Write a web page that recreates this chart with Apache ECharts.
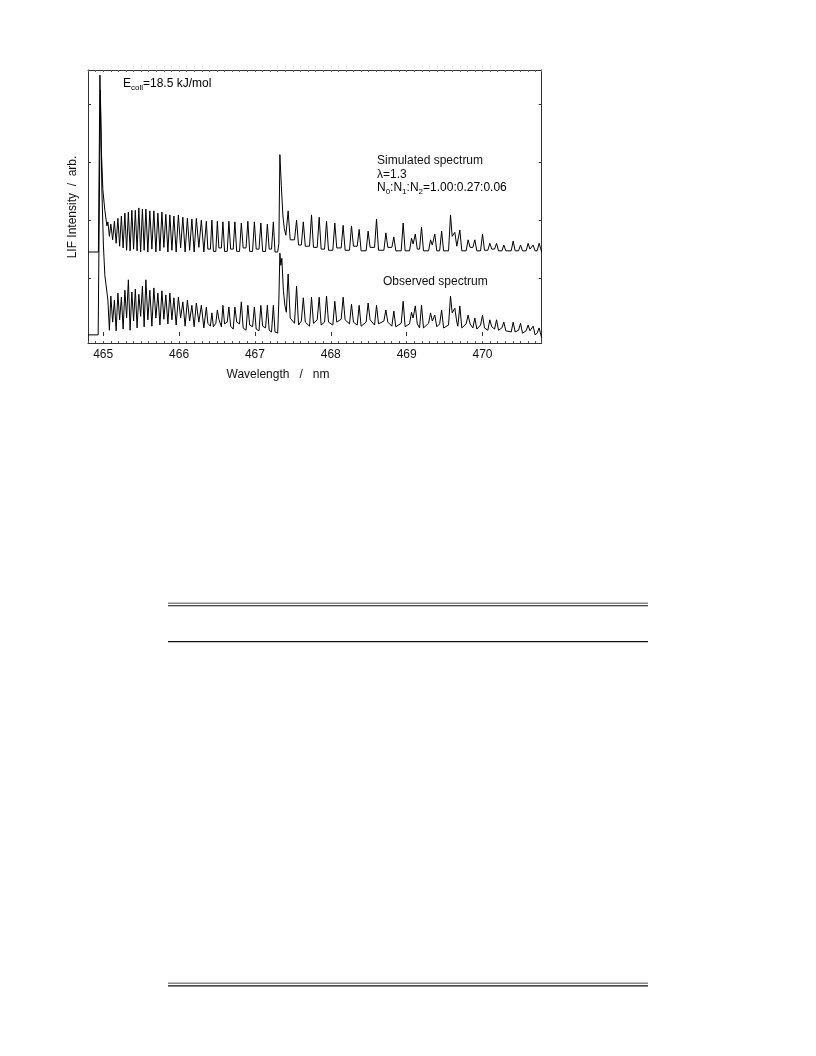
<!DOCTYPE html>
<html>
<head>
<meta charset="utf-8">
<script src="https://cdn.jsdelivr.net/npm/echarts@6/dist/echarts.min.js"></script>
<style>
html,body{margin:0;padding:0;background:#fff;}
#chart{width:816px;height:1056px;}
</style>
</head>
<body>
<div id="chart"></div>
<script>
// ---- data (wavelength in nm, LIF intensity in arb. units) ----
const xTickLabels = [465, 466, 467, 468, 469, 470];
const yTickValues = [1, 2, 3, 4];

// onset / band head near 465 nm
const simOnsetWl  = [464.800, 464.937, 464.957, 464.976, 464.996, 465.022, 465.049];
const simOnsetInt = [1.45, 1.45, 4.50, 3.21, 2.52, 2.17, 1.90];
const obsOnsetWl  = [464.800, 464.934, 464.963, 464.983, 465.003, 465.022, 465.049];
const obsOnsetInt = [0.02, 0.02, 4.24, 2.52, 1.57, 1.05, 0.76];

// dense rotational lines 465.0 - 466.3 nm (peak / trough)
const bandA1PeakWl = [465.062, 465.101, 465.148, 465.194, 465.240, 465.286, 465.332, 465.378, 465.424, 465.470, 465.517, 465.563, 465.615, 465.668, 465.721, 465.774, 465.826, 465.879, 465.932, 465.991, 466.050, 466.110, 466.169, 466.228, 466.294];
const bandA1TroughWl = [465.082, 465.125, 465.171, 465.217, 465.263, 465.309, 465.355, 465.401, 465.447, 465.494, 465.540, 465.589, 465.642, 465.695, 465.748, 465.800, 465.853, 465.906, 465.962, 466.021, 466.080, 466.140, 466.199, 466.261, 466.327];
const simA1Peak   = [1.97,1.93,1.98,2.03,2.07,2.12,2.14,2.17,2.17,2.21,2.19,2.19,2.16,2.16,2.12,2.14,2.10,2.09,2.07,2.09,2.05,2.03,2.02,2.03,2.00];
const simA1Trough = [1.72,1.66,1.60,1.55,1.52,1.48,1.47,1.50,1.47,1.45,1.48,1.45,1.50,1.45,1.47,1.53,1.45,1.48,1.45,1.52,1.45,1.48,1.45,1.53,1.45];
const obsA1Peak   = [0.62,0.69,0.62,0.74,0.67,0.79,0.97,0.76,0.81,0.72,0.86,0.97,0.79,0.83,0.74,0.78,0.71,0.74,0.66,0.67,0.59,0.62,0.53,0.57,0.53];
const obsA1Trough = [0.10,0.24,0.09,0.28,0.12,0.31,0.10,0.26,0.14,0.34,0.16,0.28,0.17,0.31,0.19,0.29,0.21,0.28,0.19,0.31,0.17,0.26,0.16,0.24,0.14];

// resolved lines 466.3 - 467.3 nm (peak, then floor start / floor end)
const bandA2PeakWl       = [466.360, 466.433, 466.505, 466.578, 466.657, 466.736, 466.821, 466.907, 466.993, 467.078, 467.164, 467.243];
const bandA2FloorStartWl = [466.380, 466.453, 466.525, 466.600, 466.680, 466.760, 466.845, 466.931, 467.017, 467.102, 467.188, 467.265];
const bandA2FloorEndWl   = [466.413, 466.485, 466.558, 466.635, 466.714, 466.797, 466.883, 466.969, 467.054, 467.140, 467.219, 467.300];
const simA2Peak  = [1.98,2.00,1.98,1.97,1.98,1.97,1.95,1.98,1.97,1.95,1.93,1.97];
const simA2Floor = [1.50,1.46,1.52,1.46,1.50,1.46,1.52,1.46,1.50,1.46,1.50,1.45];
const obsA2Peak  = [0.50,0.40,0.45,0.53,0.50,0.50,0.59,0.53,0.50,0.53,0.53,0.53];
const obsA2FloorStart = [0.22,0.16,0.29,0.21,0.17,0.24,0.14,0.19,0.12,0.17,0.10,0.07];
const obsA2FloorEnd   = [0.17,0.22,0.16,0.24,0.12,0.21,0.10,0.16,0.09,0.14,0.07,0.05];

// second band head at 467.33 nm
const simHeadWl  = [467.316, 467.329, 467.348, 467.368, 467.387, 467.408];
const simHeadInt = [1.60, 3.13, 2.60, 2.09, 1.86, 1.74];
const obsHeadWl  = [467.316, 467.329, 467.342, 467.355, 467.375, 467.395, 467.414];
const obsHeadInt = [0.62, 1.43, 1.22, 1.34, 0.79, 0.53, 0.41];

// lines beyond the second head (peak, then floor start / floor end)
const bandBPeakWl = [467.438, 467.549, 467.638, 467.746, 467.847, 467.944, 468.053, 468.163, 468.273, 468.374, 468.492, 468.603, 468.726, 468.831, 468.954, 469.064, 469.114, 469.196, 469.315, 469.371, 469.461, 469.578, 469.635, 469.701, 469.810, 469.899, 470.000, 470.096, 470.185, 470.281, 470.404, 470.501, 470.601, 470.667, 470.746];
const bandBFloorStartWl = [467.465, 467.575, 467.664, 467.772, 467.873, 467.970, 468.079, 468.189, 468.299, 468.400, 468.518, 468.629, 468.752, 468.857, 468.980, 469.085, 469.140, 469.222, 469.338, 469.397, 469.487, 469.600, 469.661, 469.727, 469.836, 469.925, 470.026, 470.122, 470.211, 470.307, 470.430, 470.527, 470.625, 470.693];
const bandBFloorEndWl   = [467.522, 467.612, 467.720, 467.821, 467.918, 468.027, 468.137, 468.247, 468.348, 468.466, 468.577, 468.700, 468.805, 468.928, 469.038, 469.093, 469.170, 469.289, 469.348, 469.435, 469.552, 469.613, 469.675, 469.784, 469.873, 469.974, 470.070, 470.159, 470.255, 470.378, 470.475, 470.575, 470.643, 470.720];
const simBPeak  = [2.16,2.00,1.97,2.09,2.05,1.98,1.95,1.91,1.90,1.84,1.81,2.02,1.78,1.71,1.95,1.69,1.76,1.88,1.66,1.76,1.81,2.09,1.79,1.83,1.66,1.66,1.76,1.60,1.60,1.57,1.64,1.57,1.60,1.57,1.60];
const simBFloor = [1.66,1.57,1.55,1.53,1.50,1.48,1.52,1.48,1.55,1.47,1.53,1.48,1.53,1.47,1.47,1.59,1.50,1.47,1.57,1.47,1.47,1.72,1.55,1.47,1.53,1.47,1.48,1.50,1.47,1.47,1.47,1.47,1.50,1.47];
const obsBPeak  = [1.07,0.86,0.66,0.67,0.67,0.69,0.60,0.67,0.55,0.53,0.57,0.53,0.45,0.43,0.60,0.41,0.52,0.53,0.40,0.36,0.45,0.69,0.48,0.52,0.36,0.31,0.36,0.28,0.28,0.24,0.24,0.22,0.19,0.17,0.14];
const obsBFloorStart = [0.31,0.19,0.24,0.22,0.19,0.24,0.24,0.28,0.24,0.17,0.28,0.21,0.24,0.16,0.16,0.31,0.21,0.14,0.26,0.16,0.14,0.40,0.24,0.14,0.21,0.12,0.14,0.16,0.10,0.09,0.07,0.05,0.09,0.02];
const obsBFloorEnd   = [0.22,0.26,0.17,0.28,0.24,0.19,0.29,0.21,0.19,0.24,0.19,0.26,0.17,0.22,0.21,0.31,0.14,0.22,0.26,0.21,0.19,0.40,0.17,0.21,0.14,0.19,0.10,0.12,0.14,0.07,0.10,0.09,0.09,0.05];
const endWl = 470.780;
const simEnd = 1.45;
const obsEnd = -0.03;

// ---- build series data ----
function zip(xs, ys){ return xs.map((x,i)=>[x, ys[i]]); }
function interleave(px, py, tx, ty){
  const out = [];
  for (let i=0;i<px.length;i++){ out.push([px[i],py[i]]); out.push([tx[i],ty[i]]); }
  return out;
}
function withFloors(px, py, fsx, fex, fsy, fey){
  const out = [];
  for (let i=0;i<px.length;i++){
    out.push([px[i],py[i]]);
    if (i < fsx.length){ out.push([fsx[i],fsy[i]]); out.push([fex[i],fey[i]]); }
  }
  return out;
}
const simData = [].concat(
  zip(simOnsetWl, simOnsetInt),
  interleave(bandA1PeakWl, simA1Peak, bandA1TroughWl, simA1Trough),
  withFloors(bandA2PeakWl, simA2Peak, bandA2FloorStartWl, bandA2FloorEndWl, simA2Floor, simA2Floor),
  zip(simHeadWl, simHeadInt),
  withFloors(bandBPeakWl, simBPeak, bandBFloorStartWl, bandBFloorEndWl, simBFloor, simBFloor),
  [[endWl, simEnd]]
);
const obsData = [].concat(
  zip(obsOnsetWl, obsOnsetInt),
  interleave(bandA1PeakWl, obsA1Peak, bandA1TroughWl, obsA1Trough),
  withFloors(bandA2PeakWl, obsA2Peak, bandA2FloorStartWl, bandA2FloorEndWl, obsA2FloorStart, obsA2FloorEnd),
  zip(obsHeadWl, obsHeadInt),
  withFloors(bandBPeakWl, obsBPeak, bandBFloorStartWl, bandBFloorEndWl, obsBFloorStart, obsBFloorEnd),
  [[endWl, obsEnd]]
);

const FONT = '"Liberation Sans", Arial, Helvetica, sans-serif';
const chart = echarts.init(document.getElementById('chart'), null, {renderer:'canvas'});
const xMin = 464.8, xMax = 470.78, yMin = -0.12, yMax = 4.59;
const axisLineStyle = {color:'#333', width:1};

const sub = {
  a:{fontSize:12, fontFamily:FONT, color:'#111', lineHeight:16, verticalAlign:'middle'},
  s:{fontSize:8, fontFamily:FONT, color:'#111', lineHeight:8, verticalAlign:'bottom'}
};

chart.setOption({
  animation:false,
  backgroundColor:'#fff',
  grid:{left:88, top:70, width:453.7, height:273, containLabel:false},
  xAxis:[
    {type:'value', min:xMin, max:xMax, interval:0.1, position:'bottom',
     axisLine:{show:true, onZero:false, lineStyle:axisLineStyle},
     axisTick:{show:true, inside:true, length:2, lineStyle:{color:'#555', width:1}},
     axisLabel:{show:true, margin:6, color:'#111', fontSize:12, fontFamily:FONT,
       formatter:function(v){ const r=Math.round(v); return Math.abs(v-r)<1e-6 ? String(r) : ''; }},
     splitLine:{show:false}},
    {type:'value', min:xMin, max:xMax, position:'bottom',
     axisLine:{show:false},
     axisTick:{show:true, inside:true, length:4, customValues:xTickLabels, lineStyle:{color:'#333', width:1}},
     axisLabel:{show:false}, splitLine:{show:false}},
    {type:'value', min:xMin, max:xMax, interval:0.1, position:'top',
     axisLine:{show:true, onZero:false, lineStyle:axisLineStyle},
     axisTick:{show:true, inside:true, length:2, lineStyle:{color:'#666', width:1}},
     axisLabel:{show:false}, splitLine:{show:false}}
  ],
  yAxis:[
    {type:'value', min:yMin, max:yMax, position:'left',
     axisLine:{show:true, onZero:false, lineStyle:axisLineStyle},
     axisTick:{show:true, inside:true, length:3, customValues:yTickValues, lineStyle:{color:'#333'}},
     axisLabel:{show:false}, splitLine:{show:false}},
    {type:'value', min:yMin, max:yMax, position:'right',
     axisLine:{show:true, onZero:false, lineStyle:axisLineStyle},
     axisTick:{show:true, inside:true, length:3, customValues:yTickValues, lineStyle:{color:'#333'}},
     axisLabel:{show:false}, splitLine:{show:false}}
  ],
  series:[
    {name:'Simulated spectrum', type:'line', xAxisIndex:0, yAxisIndex:0, data:simData,
     symbol:'none', smooth:false, lineStyle:{color:'#000', width:1}},
    {name:'Observed spectrum', type:'line', xAxisIndex:0, yAxisIndex:0, data:obsData,
     symbol:'none', smooth:false, lineStyle:{color:'#000', width:1}}
  ],
  graphic:[
    {type:'text', left:123, top:78, style:{text:'{a|E}{s|coll}{a|=18.5 kJ/mol}', rich:sub}},
    {type:'text', left:377, top:155, style:{text:'Simulated spectrum', font:'12px '+FONT, fill:'#111'}},
    {type:'text', left:377, top:169, style:{text:'λ=1.3', font:'12px '+FONT, fill:'#111'}},
    {type:'text', left:377, top:182, style:{text:'{a|N}{s|0}{a|:N}{s|1}{a|:N}{s|2}{a|=1.00:0.27:0.06}', rich:sub}},
    {type:'text', left:383, top:276, style:{text:'Observed spectrum', font:'12px '+FONT, fill:'#111'}},
    {type:'text', x:278, y:375, style:{text:'Wavelength   /   nm', font:'12px '+FONT, fill:'#111', align:'center', verticalAlign:'middle'}},
    {type:'text', x:73, y:207, rotation:Math.PI/2, style:{text:'LIF Intensity  /  arb.', font:'12px '+FONT, fill:'#111', align:'center', verticalAlign:'middle'}},
    // page rules below the figure
    {type:'rect', shape:{x:168, y:602.5, width:480, height:1.6}, style:{fill:'#888'}},
    {type:'rect', shape:{x:168, y:605.2, width:480, height:1.1}, style:{fill:'#111'}},
    {type:'rect', shape:{x:168, y:641.1, width:480, height:1.2}, style:{fill:'#111'}},
    {type:'rect', shape:{x:168, y:982.5, width:480, height:1.6}, style:{fill:'#888'}},
    {type:'rect', shape:{x:168, y:985.3, width:480, height:1.3}, style:{fill:'#111'}}
  ]
});
</script>
</body>
</html>
